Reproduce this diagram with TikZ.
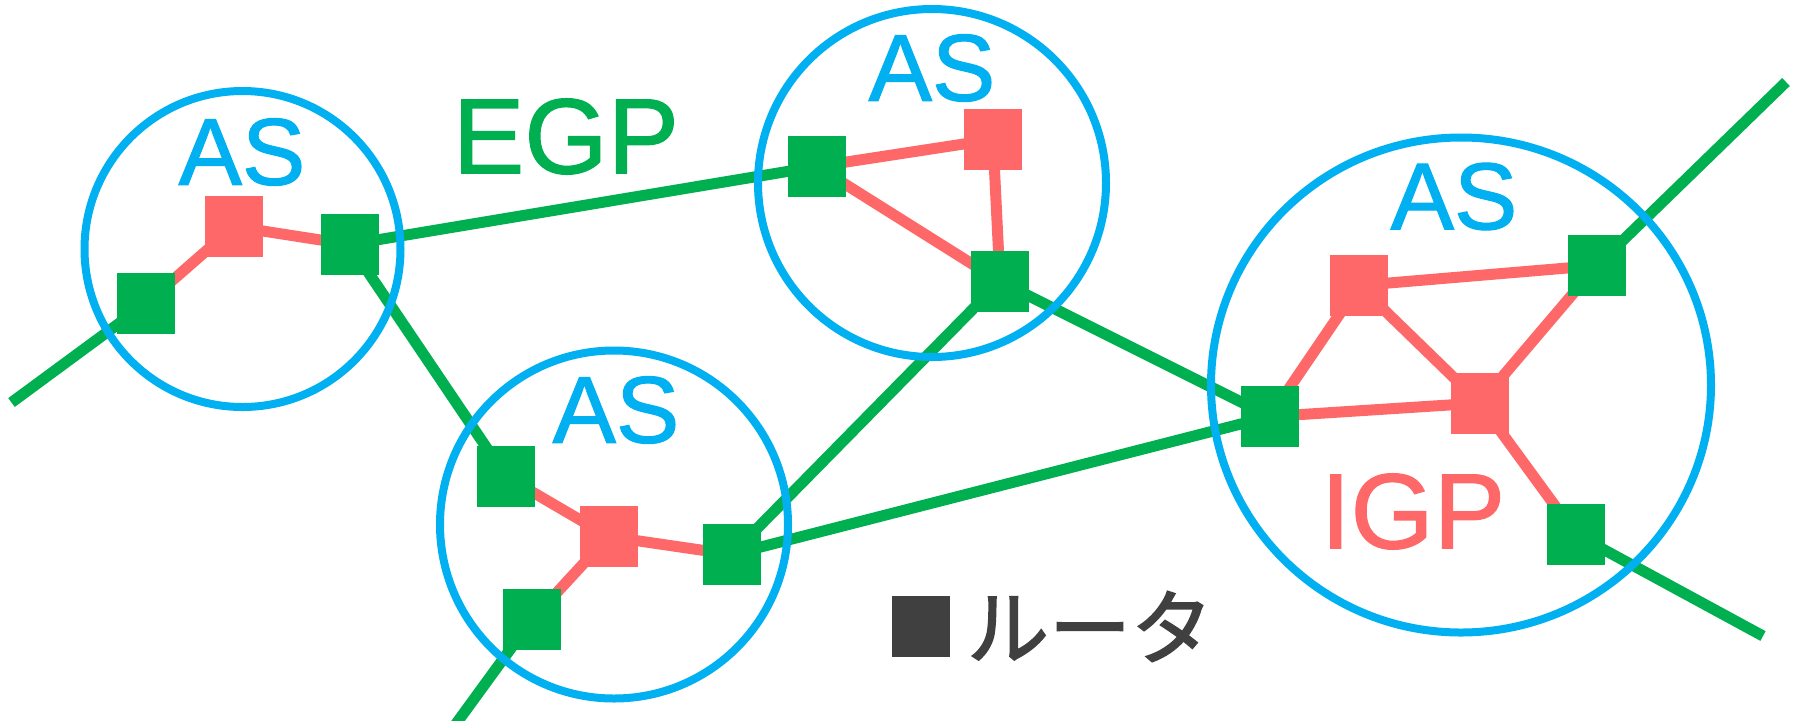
\documentclass[tikz,border=0pt]{standalone}
\usepackage{fontspec}
\setmainfont{Liberation Sans}[FakeBold=1.2]
\newfontfamily\cjk{Noto Sans CJK JP}[FakeBold=2]
\definecolor{asblue}{HTML}{00B0F0}
\definecolor{egpgreen}{HTML}{00B050}
\definecolor{igpred}{HTML}{FF6868}
\definecolor{legendgray}{HTML}{404040}
\pgfdeclarelayer{linklayer}
\pgfdeclarelayer{ringlayer}
\pgfsetlayers{linklayer,ringlayer,main}
\begin{document}
\begin{tikzpicture}[x=0.5pt,y=-0.5pt,
  router/.style={rectangle,inner sep=0pt,minimum width=29pt,minimum height=30.5pt,draw=none},
  gsq/.style={router,fill=egpgreen},
  rsq/.style={router,fill=igpred},
  lsq/.style={router,fill=legendgray},
  glink/.style={draw=egpgreen,line width=5.5pt},
  rlink/.style={draw=igpred,line width=5.5pt},
  ring/.style={draw=asblue,line width=4pt},
  aslabel/.style={text=asblue,inner sep=0pt,font=\fontsize{47.5pt}{50pt}\selectfont},
  biglabel/.style={inner sep=0pt,font=\fontsize{53.5pt}{56pt}\selectfont}
]
\useasboundingbox (0,0) rectangle (1796,720);

% AS 1 (left)
\node[gsq] (g1l) at (146,303.5) {};
\node[rsq] (r1)  at (234,226.5) {};
\node[gsq] (g1r) at (349.5,244.5) {};
\node[aslabel] (as1) at (242,152) {AS};

% AS 2 (bottom middle)
\node[gsq] (g2t) at (506,476.5) {};
\node[rsq] (r2)  at (608.5,536.5) {};
\node[gsq] (g2r) at (731.5,554.5) {};
\node[gsq] (g2b) at (532,619.5) {};
\node[aslabel] (as2) at (616,410) {AS};

% AS 3 (top middle)
\node[gsq] (g3l) at (817,166.5) {};
\node[rsq] (r3)  at (993,139.5) {};
\node[gsq] (g3b) at (1000,281.5) {};
\node[aslabel] (as3) at (932,68) {AS};

% AS 4 (right)
\node[rsq] (r4a) at (1359,285.5) {};
\node[gsq] (g4tr) at (1597,265.5) {};
\node[rsq] (r4c) at (1480,403) {};
\node[gsq] (g4l) at (1270,416.5) {};
\node[gsq] (g4br) at (1576,534.5) {};
\node[aslabel] (as4) at (1454,196.5) {AS};

% labels
\node[biglabel,text=egpgreen] (egp) at (566,136.5) {EGP};
\node[biglabel,text=igpred] (igp) at (1413,511.5) {IGP};

% legend
\node[lsq] (leg) at (921,626) {};
\node[inner sep=0pt,text=legendgray,font=\cjk\fontsize{41pt}{44pt}\selectfont] (legtext) at (1090,626.5) {ルータ};

% free ends
\coordinate (endl) at (11.5,402.5);
\coordinate (endb) at (450,732);
\coordinate (endtr) at (1786,82);
\coordinate (endbr) at (1763,636);

\begin{pgfonlayer}{linklayer}
  % IGP links
  \draw[rlink] (g1l.center) -- (r1.center) -- (g1r.center);
  \draw[rlink] (g2t.center) -- (r2.center) -- (g2r.center);
  \draw[rlink] (r2.center) -- (g2b.center);
  \draw[rlink] (g3l.center) -- (r3.center) -- (g3b.center);
  \draw[rlink] (g3l.center) -- (g3b.center);
  \draw[rlink] (g4l.center) -- (r4a.center) -- (g4tr.center);
  \draw[rlink] (r4a.center) -- (r4c.center);
  \draw[rlink] (r4c.center) -- (g4tr.center);
  \draw[rlink] (g4l.center) -- (r4c.center);
  \draw[rlink] (r4c.center) -- (g4br.center);
  % EGP links
  \draw[glink] (endl) -- (g1l.center);
  \draw[glink] (g1r.center) -- (g3l.center);
  \draw[glink] (g1r.center) -- (g2t.center);
  \draw[glink] (g2b.center) -- (endb);
  \draw[glink] (g2r.center) -- (g3b.center);
  \draw[glink] (g2r.center) -- (g4l.center);
  \draw[glink] (g3b.center) -- (g4l.center);
  \draw[glink] (g4tr.center) -- (endtr);
  \draw[glink] (g4br.center) -- (endbr);
\end{pgfonlayer}

\begin{pgfonlayer}{ringlayer}
  \draw[ring] (242.5,249) circle[radius=79pt];
  \draw[ring] (614,524.5) circle[radius=87pt];
  \draw[ring] (932,183) circle[radius=87pt];
  \draw[ring] (1461,385) ellipse[x radius=125pt,y radius=123.75pt];
\end{pgfonlayer}
\end{tikzpicture}
\end{document}
